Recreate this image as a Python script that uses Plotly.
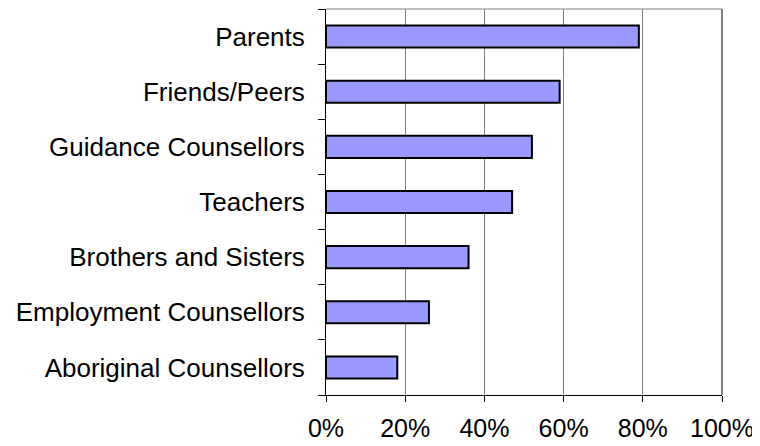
import plotly.graph_objects as go

categories = ["Parents", "Friends/Peers", "Guidance Counsellors", "Teachers",
              "Brothers and Sisters", "Employment Counsellors", "Aboriginal Counsellors"]
values = [79, 59, 52, 47, 36, 26, 18]
x_ticks = [0, 20, 40, 60, 80, 100]
x_tick_labels = ["0%", "20%", "40%", "60%", "80%", "100%"]

fig = go.Figure(go.Bar(
    y=categories, x=values, orientation="h",
    marker=dict(color="#9999FF", line=dict(color="#000000", width=2)),
    width=0.4,
))

# page body has an 8px default margin, compensate in the figure margins
W, H = 752, 438
ml, mr, mt, mb = 318, 38, 1, 51

fig.update_layout(
    width=W, height=H,
    margin=dict(l=ml, r=mr, t=mt, b=mb, pad=0, autoexpand=False),
    paper_bgcolor="white", plot_bgcolor="white",
    font=dict(family="Liberation Sans, Arial, sans-serif", size=26, color="black"),
    showlegend=False,
    xaxis=dict(
        range=[0, 100], tickvals=x_ticks, ticktext=x_tick_labels,
        showgrid=True, gridcolor="#808080", gridwidth=1,
        showline=True, linecolor="black", linewidth=1,
        ticks="outside", ticklen=6, tickcolor="black",
        zeroline=False, fixedrange=True, automargin=False,
        ticklabelstandoff=5, tickfont=dict(size=25),
    ),
    yaxis=dict(
        categoryorder="array", categoryarray=categories[::-1],
        tickson="boundaries", ticks="outside", ticklen=7, tickcolor="black",
        showline=True, linecolor="black", linewidth=1,
        showgrid=False, zeroline=False, automargin=False,
        ticklabelstandoff=15,
    ),
    shapes=[
        dict(type="line", xref="paper", yref="paper", x0=0, x1=1, y0=1, y1=1,
             line=dict(color="#808080", width=1), layer="below"),
        dict(type="line", xref="paper", yref="paper", x0=1, x1=1, y0=0, y1=1,
             line=dict(color="#808080", width=2), layer="below"),
    ],
)

fig.write_html("out.html")
